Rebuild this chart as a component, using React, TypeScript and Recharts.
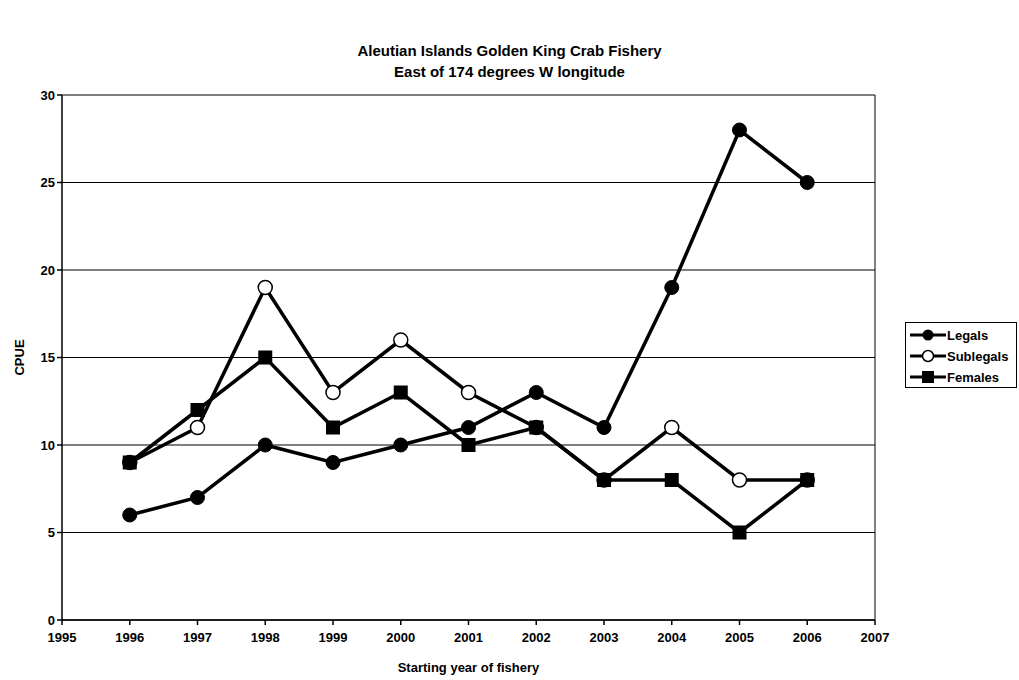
import { LineChart, Line, XAxis, YAxis, CartesianGrid, ReferenceLine, Label } from 'recharts';

const years = [1996, 1997, 1998, 1999, 2000, 2001, 2002, 2003, 2004, 2005, 2006];
const legals = [6, 7, 10, 9, 10, 11, 13, 11, 19, 28, 25];
const sublegals = [9, 11, 19, 13, 16, 13, 11, 8, 11, 8, 8];
const females = [9, 12, 15, 11, 13, 10, 11, 8, 8, 5, 8];
const xTicks = [1995, 1996, 1997, 1998, 1999, 2000, 2001, 2002, 2003, 2004, 2005, 2006, 2007];
const yTicks = [0, 5, 10, 15, 20, 25, 30];

const data = years.map((y, i) => ({
  year: y,
  legals: legals[i],
  sublegals: sublegals[i],
  females: females[i],
}));

const FONT = '"Liberation Sans", Arial, sans-serif';

// marcador cuadrado para Females
const SquareDot = (props: any) => {
  const { cx, cy, index } = props;
  if (cx == null || cy == null) return <g key={`sq-${index}`} />;
  return <rect key={`sq-${index}`} x={cx - 7} y={cy - 7} width={14} height={14} fill="#000" />;
};

const legendItems = [
  { name: 'Legals', kind: 'filled' },
  { name: 'Sublegals', kind: 'open' },
  { name: 'Females', kind: 'square' },
];

const LegendBox = () => (
  <div
    style={{
      position: 'absolute',
      left: 905,
      top: 322,
      width: 110,
      height: 64,
      border: '1px solid #000',
      background: '#fff',
      fontFamily: FONT,
      fontWeight: 'bold',
      fontSize: 13,
    }}
  >
    {legendItems.map((it, i) => (
      <div key={it.name} style={{ position: 'absolute', left: 2, top: 3 + i * 21, display: 'flex', alignItems: 'center', height: 18 }}>
        <svg width={40} height={18}>
          <line x1={2} y1={9} x2={38} y2={9} stroke="#000" strokeWidth={3} />
          {it.kind === 'filled' && <circle cx={20} cy={9} r={5.5} fill="#000" />}
          {it.kind === 'open' && <circle cx={20} cy={9} r={5.5} fill="#fff" stroke="#000" strokeWidth={1.5} />}
          {it.kind === 'square' && <rect x={14} y={3} width={12} height={12} fill="#000" />}
        </svg>
        <span style={{ marginLeft: -1 }}>{it.name}</span>
      </div>
    ))}
  </div>
);

export default function App() {
  return (
    <div style={{ position: 'absolute', left: 0, top: 0, width: 1019, height: 680, background: '#fff' }}>
      <div
        style={{
          position: 'absolute',
          left: 0,
          top: 40,
          width: 1019,
          textAlign: 'center',
          fontFamily: FONT,
          fontWeight: 'bold',
          fontSize: 15,
          lineHeight: '21px',
        }}
      >
        <div>Aleutian Islands Golden King Crab Fishery</div>
        <div>East of 174 degrees W longitude</div>
      </div>
      <LineChart
        width={1019}
        height={680}
        data={data}
        margin={{ top: 95, right: 144, bottom: 0, left: 2 }}
      >
        <CartesianGrid vertical={false} stroke="#000" strokeWidth={1} />
        <XAxis
          dataKey="year"
          type="number"
          domain={[1995, 2007]}
          ticks={xTicks}
          interval={0}
          height={60}
          stroke="#000"
          strokeWidth={1.5}
          tickSize={5}
          tick={{ fill: '#000', fontFamily: FONT, fontWeight: 'bold', fontSize: 13, dy: 6 }}
        >
          <Label
            content={({ viewBox }: any) => (
              <text
                x={viewBox.x + viewBox.width / 2}
                y={viewBox.y + 52}
                textAnchor="middle"
                fontFamily={FONT}
                fontWeight="bold"
                fontSize={13}
                fill="#000"
              >
                Starting year of fishery
              </text>
            )}
          />
        </XAxis>
        <YAxis
          type="number"
          domain={[0, 30]}
          ticks={yTicks}
          interval={0}
          width={60}
          stroke="#000"
          strokeWidth={1.5}
          tickSize={5}
          tick={{ fill: '#000', fontFamily: FONT, fontWeight: 'bold', fontSize: 13 }}
        >
          <Label
            content={({ viewBox }: any) => {
              const cx = 24;
              const cy = viewBox.y + viewBox.height / 2;
              return (
                <text
                  x={cx}
                  y={cy}
                  transform={`rotate(-90 ${cx} ${cy})`}
                  textAnchor="middle"
                  fontFamily={FONT}
                  fontWeight="bold"
                  fontSize={13}
                  fill="#000"
                >
                  CPUE
                </text>
              );
            }}
          />
        </YAxis>
        <ReferenceLine x={2007} stroke="#000" strokeWidth={1} />
        <Line
          dataKey="legals"
          stroke="#000"
          strokeWidth={3.5}
          isAnimationActive={false}
          dot={{ r: 7, fill: '#000', stroke: '#000', strokeWidth: 1 }}
          activeDot={false}
        />
        <Line
          dataKey="sublegals"
          stroke="#000"
          strokeWidth={3.5}
          isAnimationActive={false}
          dot={{ r: 7, fill: '#fff', stroke: '#000', strokeWidth: 1.5 }}
          activeDot={false}
        />
        <Line
          dataKey="females"
          stroke="#000"
          strokeWidth={3.5}
          isAnimationActive={false}
          dot={SquareDot}
          activeDot={false}
        />
      </LineChart>
      <LegendBox />
    </div>
  );
}
